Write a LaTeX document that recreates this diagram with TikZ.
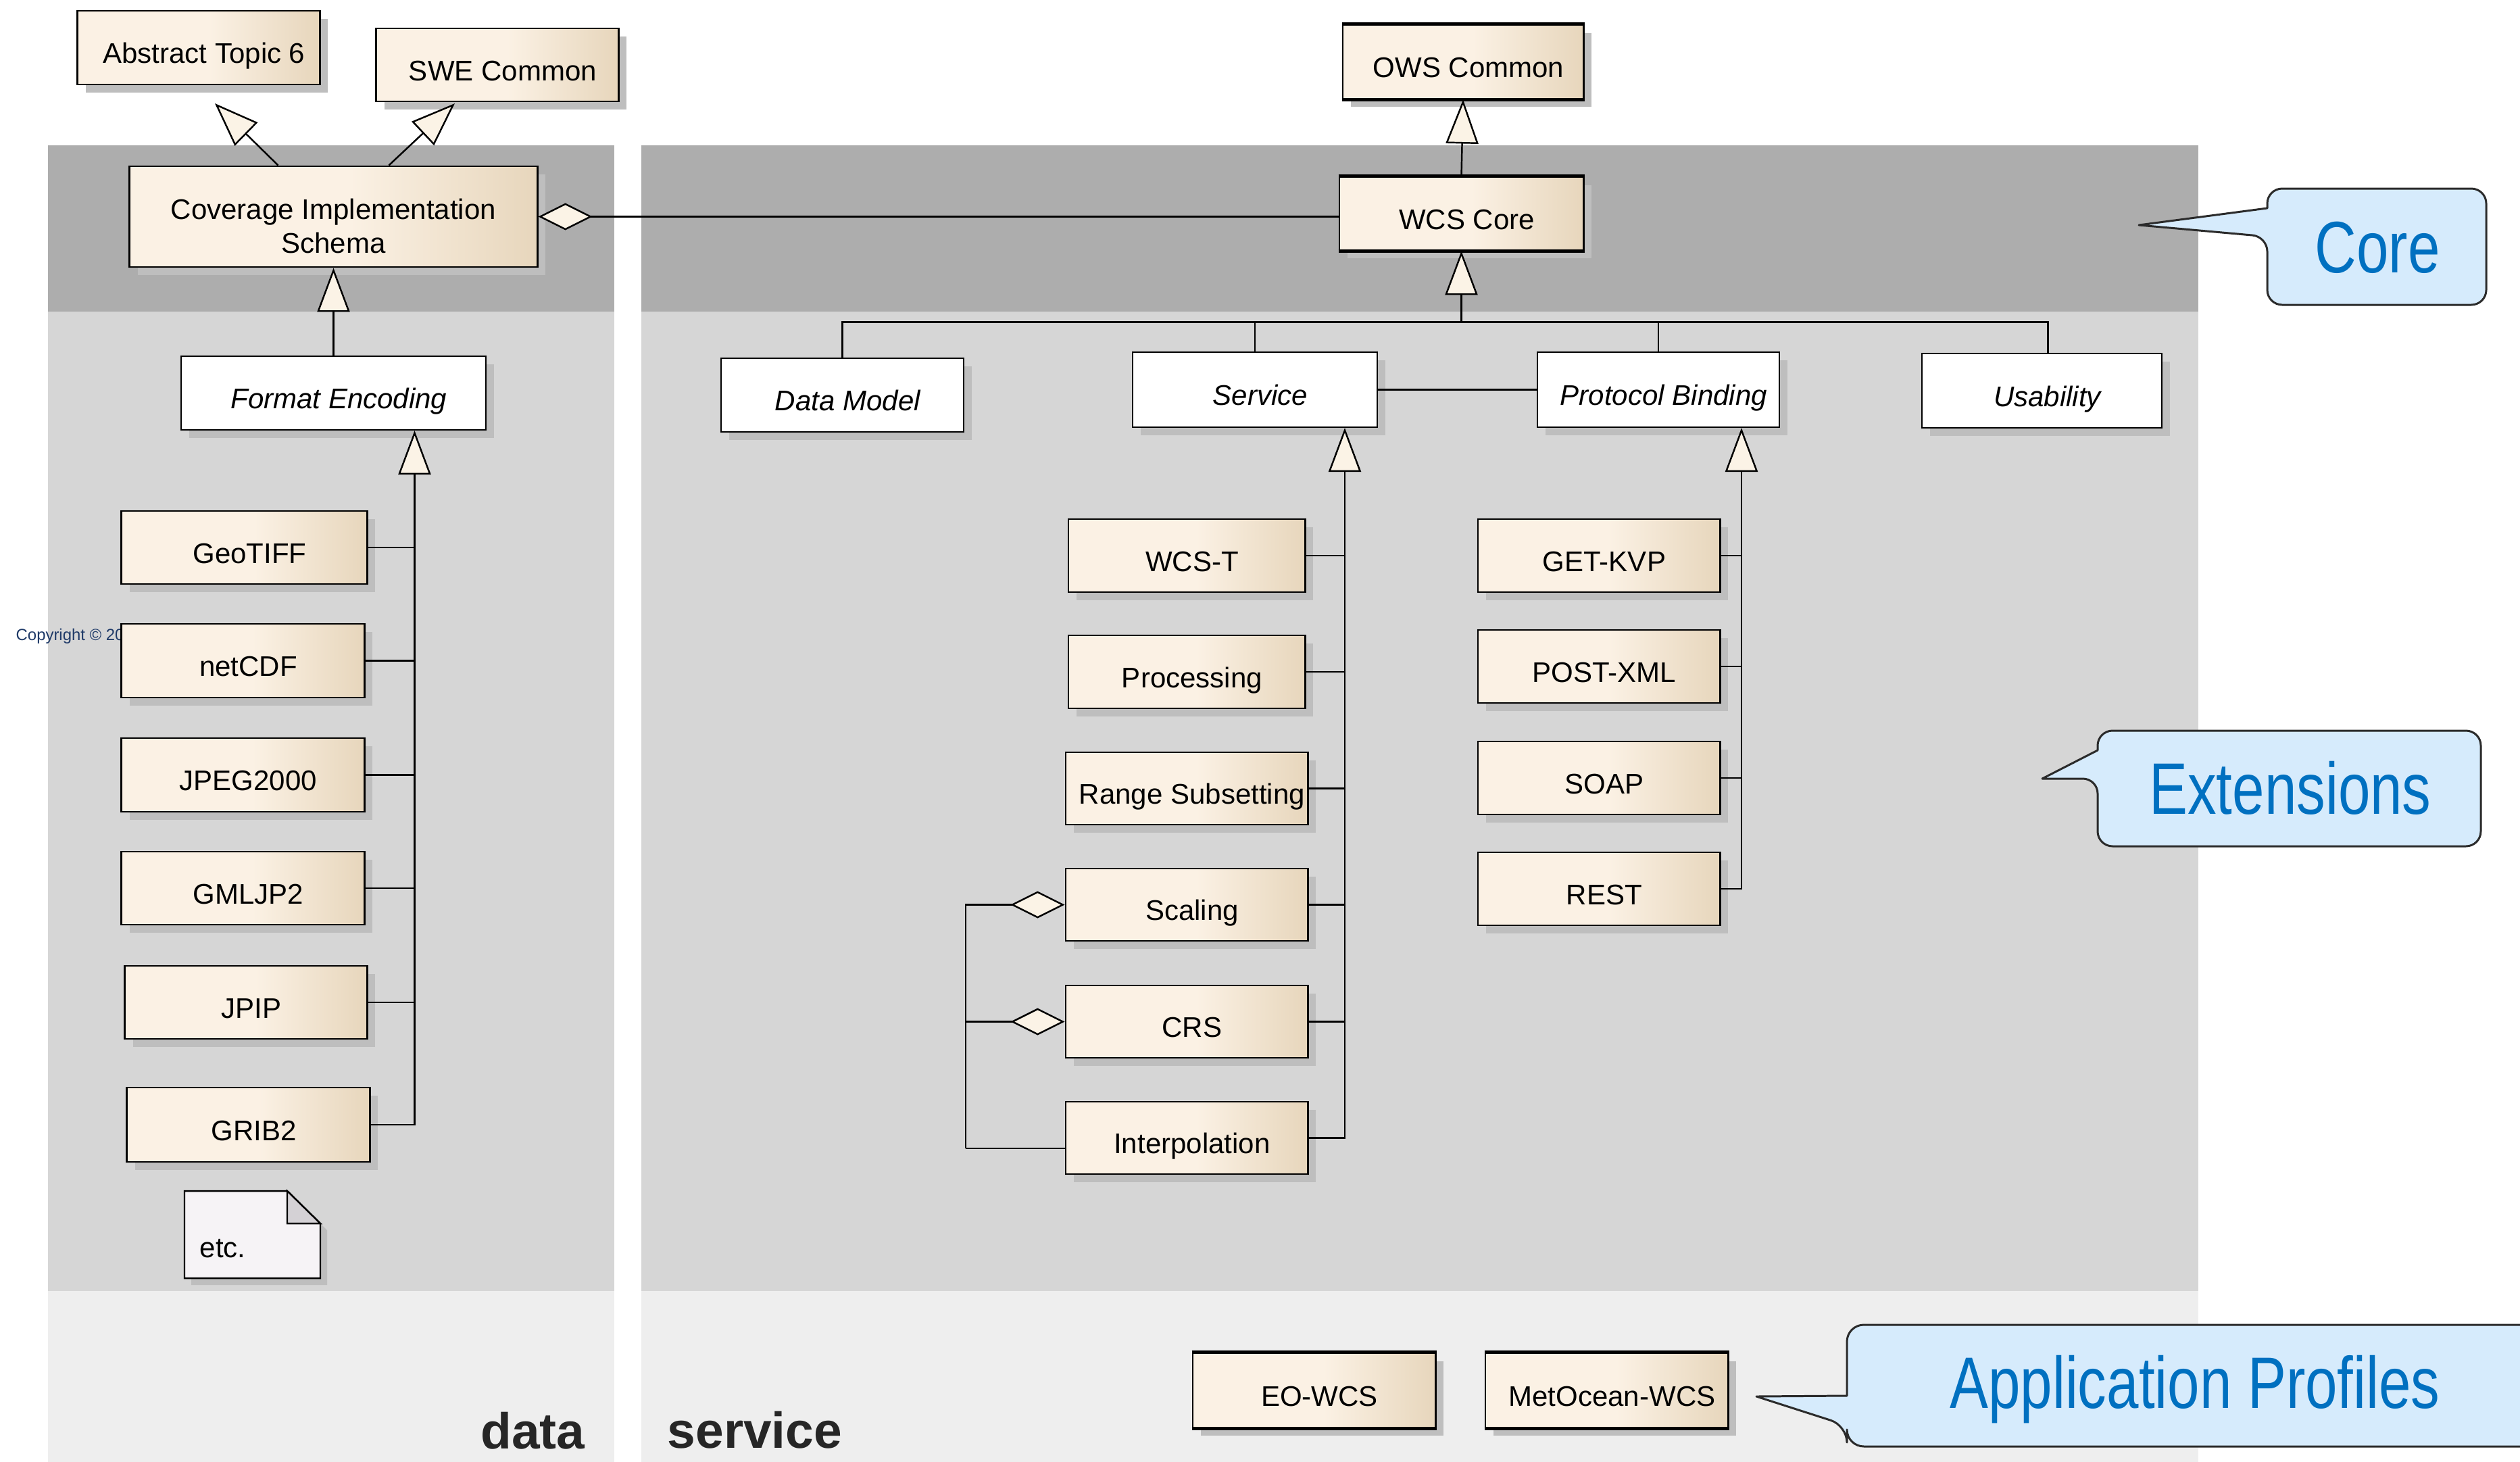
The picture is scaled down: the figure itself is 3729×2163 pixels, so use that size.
\documentclass[tikz,border=0pt]{standalone}
\usepackage{fontspec}
\setmainfont{Liberation Sans}
\newfontfamily\calloutfont[FakeStretch=0.79]{Liberation Sans}
\usetikzlibrary{arrows.meta,shadows,calc}

\definecolor{bandcore}{HTML}{ADADAD}
\definecolor{bandext}{HTML}{D6D6D6}
\definecolor{bandapp}{HTML}{EEEEEE}
\definecolor{cream}{HTML}{FBF1E4}
\definecolor{tan}{HTML}{E7D6BC}
\definecolor{shadowgray}{HTML}{BEBEBE}
\definecolor{notefill}{HTML}{F6F3F6}
\definecolor{notefold}{HTML}{D4D1D5}
\definecolor{callfill}{HTML}{D6EBFC}
\definecolor{callblue}{HTML}{0070C0}
\definecolor{callline}{HTML}{2B2B2B}
\definecolor{copyblue}{HTML}{1F3A68}
\definecolor{labelgray}{HTML}{262626}
\definecolor{tipfill}{HTML}{FBF3E6}

% cream on the left, fading to tan towards the right edge
\pgfdeclarehorizontalshading{classshade}{100bp}{color(0bp)=(cream); color(25bp)=(cream); color(52bp)=(cream); color(75bp)=(tan); color(100bp)=(tan)}

% box given by its corners (in pixel units): style, name, x1, y1, x2, y2, text
\newcommand{\umlnode}[7]{%
  \pgfmathsetmacro\ux{(#3+#5)/2}%
  \pgfmathsetmacro\uy{(#4+#6)/2}%
  \pgfmathsetmacro\uw{(#5-#3)/100}%
  \pgfmathsetmacro\uh{(#6-#4)/100}%
  \node[#1, minimum width=\uw cm, minimum height=\uh cm] (#2) at (\ux,\uy) {#7};%
}

\tikzset{
  every node/.style={font=\fontsize{11.95pt}{14.2pt}\selectfont},
  umlbase/.style={draw=black, line width=0.8pt, inner sep=0pt,
    drop shadow={shadow xshift=0.12cm, shadow yshift=-0.12cm, fill=shadowgray, opacity=1}},
  classbox/.style={umlbase, shading=classshade, text height=13.1pt, text depth=0pt,
    execute at begin node=\hspace*{4.5pt}},
  absbox/.style={umlbase, fill=white, line width=0.6pt,
    font=\fontsize{11.95pt}{14.2pt}\selectfont\itshape,
    text height=13.1pt, text depth=0pt, execute at begin node=\hspace*{4.5pt}},
  cisbox/.style={umlbase, shading=classshade, align=center},
  heavyedge/.style={draw=black, line width=1.3pt},
  conn/.style={draw=black, line width=0.7pt},
  gen/.style={conn, -{Triangle[length=0.65cm, width=0.48cm, fill=tipfill]}},
  agg/.style={conn, {Diamond[length=0.8cm, width=0.4cm, fill=tipfill]}-},
  callout/.style={fill=callfill, draw=callline, line width=0.85pt, line join=round},
  callouttext/.style={text=callblue, inner sep=0pt, anchor=base,
    font=\calloutfont\fontsize{30.7pt}{36pt}\selectfont},
  packlabel/.style={text=labelgray, inner sep=0pt,
    font=\fontsize{21.3pt}{25pt}\selectfont\bfseries},
}

\begin{document}
\begin{tikzpicture}[x=0.01cm, y=-0.01cm]
\clip (0,0) rectangle (3729,2163);
\fill[white] (0,0) rectangle (3729,2163);

% package columns: data (left) and service (right), in three bands
\fill[bandcore] (71,215) rectangle (909,461);
\fill[bandext]  (71,461) rectangle (909,1910);
\fill[bandapp]  (71,1910) rectangle (909,2163);
\fill[bandcore] (949,215) rectangle (3253,461);
\fill[bandext]  (949,461) rectangle (3253,1910);
\fill[bandapp]  (949,1910) rectangle (3253,2163);

\node[anchor=base west, inner sep=0pt, text=copyblue, font=\fontsize{6.8pt}{8pt}\selectfont]
  (copyright) at (23,947) {Copyright © 20};

% external and core classes
\umlnode{classbox}{abs6}{115}{16}{473}{125}{Abstract Topic 6}
\umlnode{classbox}{swe}{557}{42}{915}{150}{SWE Common}
\umlnode{classbox}{ows}{1987}{37}{2343}{146}{OWS Common}
\umlnode{cisbox}{cis}{192}{246}{795}{395}{\rule{0pt}{16.7pt}Coverage Implementation\\Schema}
\umlnode{classbox}{wcs}{1982}{262}{2343}{370}{WCS Core}

% abstract extension groups
\umlnode{absbox}{fe}{268}{527}{719}{636}{Format Encoding}
\umlnode{absbox}{dm}{1067}{530}{1426}{639}{Data Model}
\umlnode{absbox}{svc}{1676}{521}{2038}{632}{Service}
\umlnode{absbox}{pb}{2275}{521}{2633}{632}{Protocol Binding}
\umlnode{absbox}{us}{2844}{523}{3199}{633}{Usability}

% format encodings
\umlnode{classbox}{geotiff}{180}{756}{543}{864}{GeoTIFF}
\umlnode{classbox}{netcdf}{180}{923}{539}{1032}{netCDF}
\umlnode{classbox}{jpeg}{180}{1092}{539}{1201}{JPEG2000}
\umlnode{classbox}{gmljp2}{180}{1260}{539}{1368}{GMLJP2}
\umlnode{classbox}{jpip}{185}{1429}{543}{1537}{JPIP}
\umlnode{classbox}{grib2}{188}{1609}{547}{1719}{GRIB2}

% service extensions
\umlnode{classbox}{wcst}{1581}{768}{1931}{876}{WCS-T}
\umlnode{classbox}{proc}{1581}{940}{1931}{1048}{Processing}
\umlnode{classbox}{range}{1577}{1113}{1935}{1220}{Range Subsetting}
\umlnode{classbox}{scaling}{1577}{1285}{1935}{1392}{Scaling}
\umlnode{classbox}{crs}{1577}{1458}{1935}{1565}{CRS}
\umlnode{classbox}{interp}{1577}{1630}{1935}{1737}{Interpolation}

% protocol bindings
\umlnode{classbox}{getkvp}{2187}{768}{2545}{876}{GET-KVP}
\umlnode{classbox}{postxml}{2187}{932}{2545}{1040}{POST-XML}
\umlnode{classbox}{soap}{2187}{1097}{2545}{1205}{SOAP}
\umlnode{classbox}{rest}{2187}{1261}{2545}{1369}{REST}

% application profiles
\umlnode{classbox}{eowcs}{1765}{2002}{2124}{2112}{EO-WCS}
\umlnode{classbox}{metocean}{2198}{2002}{2557}{2112}{MetOcean-WCS}

% heavier top and bottom edges on the package-level classes
\foreach \n in {ows,wcs,eowcs,metocean} {
  \draw[heavyedge] (\n.north west) -- (\n.north east);
  \draw[heavyedge] (\n.south west) -- (\n.south east);
}

% "etc." note with folded corner
\fill[shadowgray] (283,1772) -- (435,1772) -- (484,1820) -- (484,1901) -- (283,1901) -- cycle;
\filldraw[fill=notefill, draw=black, line width=0.7pt] (273,1762) -- (425,1762) -- (474,1810) -- (474,1891) -- (273,1891) -- cycle;
\filldraw[fill=notefold, draw=black, line width=0.7pt] (425,1762) -- (425,1810) -- (474,1810) -- cycle;
\node[anchor=base west, inner sep=0pt] (etc) at (295,1860) {etc.};

% core relations
\coordinate (abstip) at (318,153);
\coordinate (swetip) at (673,153);
\draw[gen] ($(cis.north)+(-82,0)$) -- (abstip);
\draw[gen] ($(cis.north)+(82,0)$) -- (swetip);
\draw[gen] (wcs.north) -- (ows.south);
\draw[agg] (cis.east) -- (cis.east -| wcs.west);
\draw[gen] (fe.north) -- (cis.south);

% extension groups specialise WCS Core
\path (wcs.south) ++(0,105) coordinate (corebus);
\draw[gen] (corebus) -- (wcs.south);
\draw[conn] (dm.north) |- (corebus);
\draw[conn] (svc.north) |- (corebus);
\draw[conn] (pb.north) |- (corebus);
\draw[conn] ($(us.north)+(9,0)$) |- (corebus);
\draw[conn] (svc.east) -- (pb.west);

% format encodings specialise Format Encoding
\coordinate (fetip) at ($(fe.south)+(120,0)$);
\draw[gen] (grib2.east) -| (fetip);
\foreach \n in {geotiff,netcdf,jpeg,gmljp2,jpip}
  \draw[conn] (\n.east) -- (\n.east -| fetip);

% service extensions specialise Service
\coordinate (svctip) at ($(svc.south)+(133,0)$);
\draw[gen] (interp.east) -| (svctip);
\foreach \n in {wcst,proc,range,scaling,crs}
  \draw[conn] (\n.east) -- (\n.east -| svctip);

% protocol bindings specialise Protocol Binding
\coordinate (pbtip) at ($(pb.south)+(123,0)$);
\draw[gen] (rest.east) -| (pbtip);
\foreach \n in {getkvp,postxml,soap}
  \draw[conn] (\n.east) -- (\n.east -| pbtip);

% Scaling and CRS aggregate Interpolation
\coordinate (aggcorner) at (1429,1699);
\draw[agg] (scaling.west) -| (aggcorner);
\draw[agg] (crs.west) -- (crs.west -| aggcorner);
\draw[conn] (aggcorner) -- (aggcorner -| interp.west);

% callouts
\draw[callout] (3355,350) -- (3165,333) -- (3355,308) [rounded corners=0.22cm] -- (3355,279) -- (3679,279) -- (3679,451) -- (3355,451) -- cycle;
\node[callouttext] (corelbl) at (3518,403) {Core};

\draw[callout] (3104,1152) -- (3022,1152) -- (3104,1110) [rounded corners=0.22cm] -- (3104,1081) -- (3671,1081) -- (3671,1252) -- (3104,1252) -- cycle;
\node[callouttext] (extlbl) at (3389,1204) {Extensions};

\draw[callout] (2733,2109) -- (2599,2066) -- (2733,2065) [rounded corners=0.25cm] -- (2733,1960) -- (3800,1960) -- (3800,2140) -- (2733,2140) -- cycle;
\node[callouttext] (applbl) at (3248,2083) {Application Profiles};

% package names
\node[packlabel, anchor=base east] (datalbl) at (866,2143) {data};
\node[packlabel, anchor=base west] (servicelbl) at (987,2142) {service};
\end{tikzpicture}
\end{document}
